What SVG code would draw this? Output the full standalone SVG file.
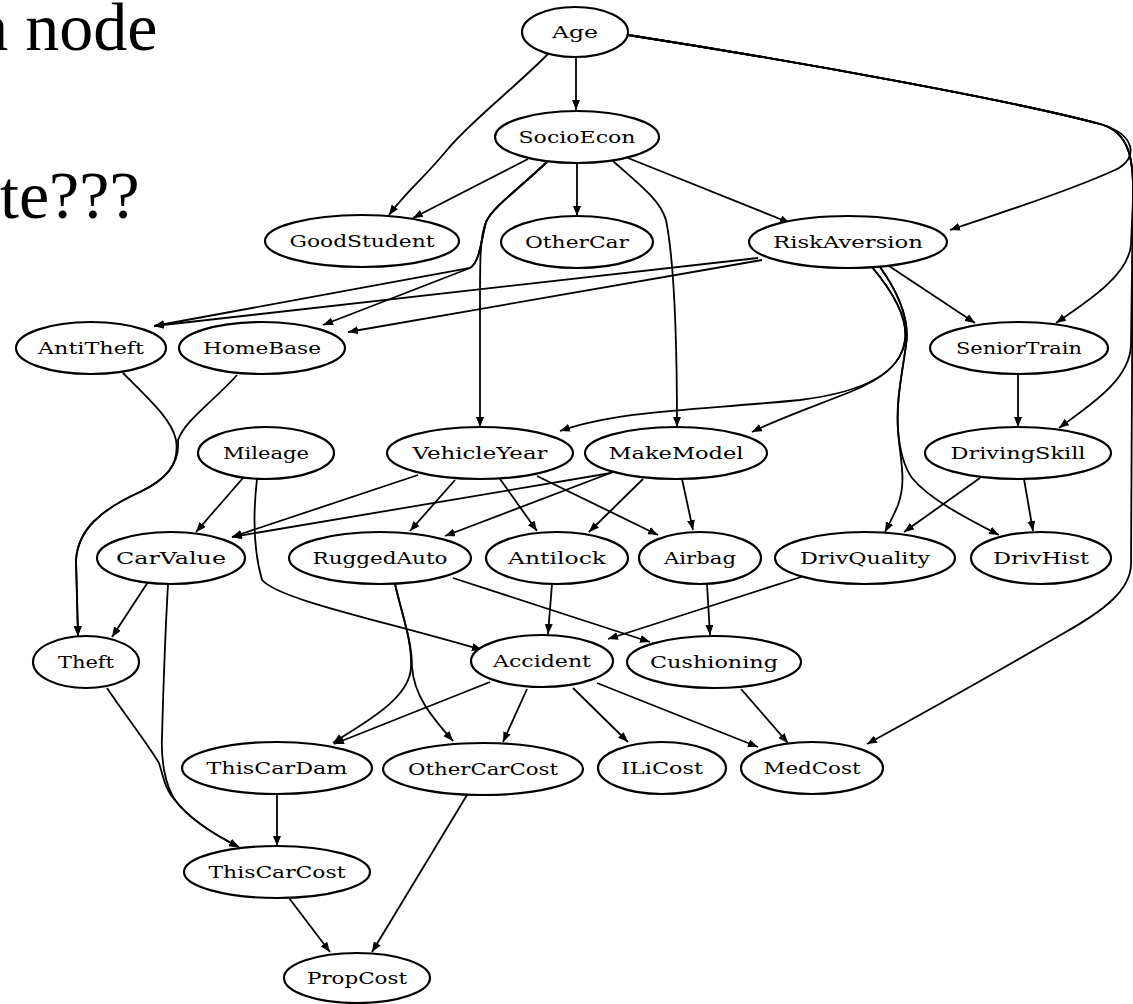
<svg xmlns="http://www.w3.org/2000/svg" width="1133" height="1004" viewBox="0 0 1133 1004">
  <style>
    .bg { fill: #ffffff; }
    .title { font-family: "Liberation Serif", "Times New Roman", serif; font-size: 68px; fill: #000; }
    .edge { fill: none; stroke: #000; stroke-width: 1.8; marker-end: url(#ah); }
    .node ellipse { fill: #ffffff; stroke: #000; stroke-width: 2.2; }
    .node text { font-family: "DejaVu Serif", "Liberation Serif", serif; font-size: 16px; fill: #000; text-anchor: middle; }
  </style>
  <defs>
    <marker id="ah" viewBox="0 0 10 8" refX="10" refY="4" markerWidth="10" markerHeight="8" markerUnits="userSpaceOnUse" orient="auto">
      <path d="M0,0 L10,4 L0,8 z" fill="#000"/>
    </marker>
  </defs>

  <rect class="bg" x="0" y="0" width="1133" height="1004"/>

  <!-- slide text, partly cut at the left edge -->
  <text class="title" x="-22" y="50">a node</text>
  <text class="title" x="0" y="218">te???</text>

  <!-- connectors -->
  <g id="edges">
    <path class="edge" d="M576,57 L576,110"/>
    <path class="edge" d="M548,54 C510,92 470,122 447,150 C425,177 405,193 389,215"/>
    <path class="edge" d="M628,35 C800,62 1010,100 1100,124 C1135,134 1140,158 1115,170 C1060,195 990,216 950,230"/>
    <path class="edge" d="M628,35 C800,62 1010,100 1100,124 C1130,132 1134,160 1133,200 L1131,245 C1128,275 1090,300 1056,323"/>
    <path class="edge" d="M628,35 C800,62 1010,100 1100,124 C1130,132 1134,160 1133,200 L1131,345 C1130,380 1090,405 1059,428"/>
    <path class="edge" d="M628,35 C800,62 1010,100 1100,124 C1130,132 1134,160 1133,200 L1131,565 C1130,590 1105,610 1064,633 C1000,670 920,715 867,744"/>

    <path class="edge" d="M528,159 L413,218"/>
    <path class="edge" d="M577,163 L577,216"/>
    <path class="edge" d="M628,158 L790,223"/>
    <path class="edge" d="M547,162 C515,192 492,208 486,222 C480,236 480,260 480,300 L480,427"/>
    <path class="edge" d="M613,161 C640,185 660,200 666,220 C672,250 677,300 677,427"/>
    <path class="edge" d="M547,162 C515,192 492,208 486,222 C481,240 480,262 470,268 L154,326"/>
    <path class="edge" d="M547,162 C515,192 492,208 486,222 C481,240 480,262 470,268 L323,325"/>

    <path class="edge" d="M758,258 L154,326"/>
    <path class="edge" d="M762,260 L348,332"/>
    <path class="edge" d="M889,266 L975,323"/>
    <path class="edge" d="M872,267 C893,292 908,318 905,340 C902,365 880,390 800,400 C700,410 620,410 560,431"/>
    <path class="edge" d="M872,267 C893,292 908,318 905,340 C902,365 880,380 850,392 C810,408 780,418 752,432"/>
    <path class="edge" d="M880,267 C900,295 910,320 906,345 C902,375 896,400 898,430 C900,460 907,480 898,505 C894,515 890,522 885,532"/>
    <path class="edge" d="M880,267 C900,295 910,320 906,345 C902,375 896,400 898,430 C900,455 905,468 912,478 C930,500 970,520 999,535"/>

    <path class="edge" d="M1018,374 L1018,427"/>
    <path class="edge" d="M980,478 L904,532"/>
    <path class="edge" d="M1024,479 L1033,531"/>

    <path class="edge" d="M243,478 L196,532"/>
    <path class="edge" d="M257,479 C254,505 252,545 262,580 C280,600 380,620 482,650"/>
    <path class="edge" d="M418,475 L232,537"/>
    <path class="edge" d="M611,473 L232,537"/>
    <path class="edge" d="M455,480 L410,531"/>
    <path class="edge" d="M613,472 L445,536"/>
    <path class="edge" d="M500,479 L537,531"/>
    <path class="edge" d="M643,479 L589,532"/>
    <path class="edge" d="M537,476 L658,535"/>
    <path class="edge" d="M682,479 L693,530"/>

    <path class="edge" d="M552,584 L548,634"/>
    <path class="edge" d="M707,584 L710,635"/>
    <path class="edge" d="M453,578 L650,642"/>
    <path class="edge" d="M801,577 L608,639"/>
    <path class="edge" d="M395,584 C402,615 412,640 411,667 C410,700 360,725 333,743"/>
    <path class="edge" d="M395,584 C402,615 412,640 412,667 C414,695 430,715 453,741"/>

    <path class="edge" d="M490,682 L334,744"/>
    <path class="edge" d="M527,689 L503,742"/>
    <path class="edge" d="M573,688 L628,742"/>
    <path class="edge" d="M597,683 L758,747"/>
    <path class="edge" d="M741,689 L788,743"/>

    <path class="edge" d="M148,582 L112,637"/>
    <path class="edge" d="M168,584 C166,620 163,700 162,737 C161,760 165,785 175,800 C190,820 215,835 239,847"/>
    <path class="edge" d="M107,688 C125,715 145,740 159,763 C163,775 165,790 175,800 C190,820 215,835 239,847"/>
    <path class="edge" d="M123,373 C150,400 172,420 176,440 C180,465 165,480 140,492 C100,510 78,530 76,560 L78,636"/>
    <path class="edge" d="M237,375 C215,400 185,420 178,440 C180,465 165,480 140,492 C100,510 78,530 76,560 L78,636"/>

    <path class="edge" d="M277,795 L277,846"/>
    <path class="edge" d="M289,898 L330,952"/>
    <path class="edge" d="M467,795 L372,952"/>
  </g>

  <!-- nodes -->
  <g id="Age" class="node"><ellipse cx="575" cy="32" rx="53" ry="25"/><text x="575" y="38" textLength="46" lengthAdjust="spacingAndGlyphs">Age</text></g>
  <g id="SocioEcon" class="node"><ellipse cx="577" cy="137" rx="82" ry="26"/><text x="577" y="143" textLength="117" lengthAdjust="spacingAndGlyphs">SocioEcon</text></g>
  <g id="GoodStudent" class="node"><ellipse cx="362" cy="241" rx="97" ry="26"/><text x="362" y="247" textLength="145" lengthAdjust="spacingAndGlyphs">GoodStudent</text></g>
  <g id="OtherCar" class="node"><ellipse cx="577" cy="242" rx="76" ry="26"/><text x="577" y="248" textLength="104" lengthAdjust="spacingAndGlyphs">OtherCar</text></g>
  <g id="RiskAversion" class="node"><ellipse cx="848" cy="242" rx="99" ry="26"/><text x="848" y="248" textLength="150" lengthAdjust="spacingAndGlyphs">RiskAversion</text></g>
  <g id="AntiTheft" class="node"><ellipse cx="91" cy="348" rx="75" ry="26"/><text x="91" y="354" textLength="106" lengthAdjust="spacingAndGlyphs">AntiTheft</text></g>
  <g id="HomeBase" class="node"><ellipse cx="262" cy="348" rx="83" ry="26"/><text x="262" y="354" textLength="118" lengthAdjust="spacingAndGlyphs">HomeBase</text></g>
  <g id="SeniorTrain" class="node"><ellipse cx="1019" cy="348" rx="89" ry="26"/><text x="1019" y="354" textLength="126" lengthAdjust="spacingAndGlyphs">SeniorTrain</text></g>
  <g id="Mileage" class="node"><ellipse cx="266" cy="453" rx="68" ry="26"/><text x="266" y="459" textLength="86" lengthAdjust="spacingAndGlyphs">Mileage</text></g>
  <g id="VehicleYear" class="node"><ellipse cx="480" cy="453" rx="93" ry="26"/><text x="480" y="459" textLength="135" lengthAdjust="spacingAndGlyphs">VehicleYear</text></g>
  <g id="MakeModel" class="node"><ellipse cx="676" cy="453" rx="91" ry="26"/><text x="676" y="459" textLength="135" lengthAdjust="spacingAndGlyphs">MakeModel</text></g>
  <g id="DrivingSkill" class="node"><ellipse cx="1018" cy="453" rx="93" ry="26"/><text x="1018" y="459" textLength="135" lengthAdjust="spacingAndGlyphs">DrivingSkill</text></g>
  <g id="CarValue" class="node"><ellipse cx="171" cy="558" rx="74" ry="26"/><text x="171" y="564" textLength="110" lengthAdjust="spacingAndGlyphs">CarValue</text></g>
  <g id="RuggedAuto" class="node"><ellipse cx="380" cy="558" rx="91" ry="26"/><text x="380" y="564" textLength="135" lengthAdjust="spacingAndGlyphs">RuggedAuto</text></g>
  <g id="Antilock" class="node"><ellipse cx="557" cy="558" rx="71" ry="26"/><text x="557" y="564" textLength="98" lengthAdjust="spacingAndGlyphs">Antilock</text></g>
  <g id="Airbag" class="node"><ellipse cx="700" cy="558" rx="61" ry="26"/><text x="700" y="564" textLength="72" lengthAdjust="spacingAndGlyphs">Airbag</text></g>
  <g id="DrivQuality" class="node"><ellipse cx="865" cy="558" rx="90" ry="26"/><text x="865" y="564" textLength="130" lengthAdjust="spacingAndGlyphs">DrivQuality</text></g>
  <g id="DrivHist" class="node"><ellipse cx="1041" cy="558" rx="70" ry="26"/><text x="1041" y="564" textLength="96" lengthAdjust="spacingAndGlyphs">DrivHist</text></g>
  <g id="Theft" class="node"><ellipse cx="86" cy="662" rx="53" ry="26"/><text x="86" y="668" textLength="56" lengthAdjust="spacingAndGlyphs">Theft</text></g>
  <g id="Accident" class="node"><ellipse cx="542" cy="661" rx="71" ry="26"/><text x="542" y="667" textLength="98" lengthAdjust="spacingAndGlyphs">Accident</text></g>
  <g id="Cushioning" class="node"><ellipse cx="714" cy="662" rx="87" ry="26"/><text x="714" y="668" textLength="128" lengthAdjust="spacingAndGlyphs">Cushioning</text></g>
  <g id="ThisCarDam" class="node"><ellipse cx="277" cy="768" rx="95" ry="26"/><text x="277" y="774" textLength="141" lengthAdjust="spacingAndGlyphs">ThisCarDam</text></g>
  <g id="OtherCarCost" class="node"><ellipse cx="483" cy="769" rx="100" ry="26"/><text x="483" y="775" textLength="150" lengthAdjust="spacingAndGlyphs">OtherCarCost</text></g>
  <g id="ILiCost" class="node"><ellipse cx="662" cy="768" rx="64" ry="26"/><text x="662" y="774" textLength="82" lengthAdjust="spacingAndGlyphs">ILiCost</text></g>
  <g id="MedCost" class="node"><ellipse cx="812" cy="768" rx="71" ry="26"/><text x="812" y="774" textLength="97" lengthAdjust="spacingAndGlyphs">MedCost</text></g>
  <g id="ThisCarCost" class="node"><ellipse cx="277" cy="872" rx="93" ry="26"/><text x="277" y="878" textLength="137" lengthAdjust="spacingAndGlyphs">ThisCarCost</text></g>
  <g id="PropCost" class="node"><ellipse cx="357" cy="978" rx="73" ry="25"/><text x="357" y="984" textLength="100" lengthAdjust="spacingAndGlyphs">PropCost</text></g>
</svg>
